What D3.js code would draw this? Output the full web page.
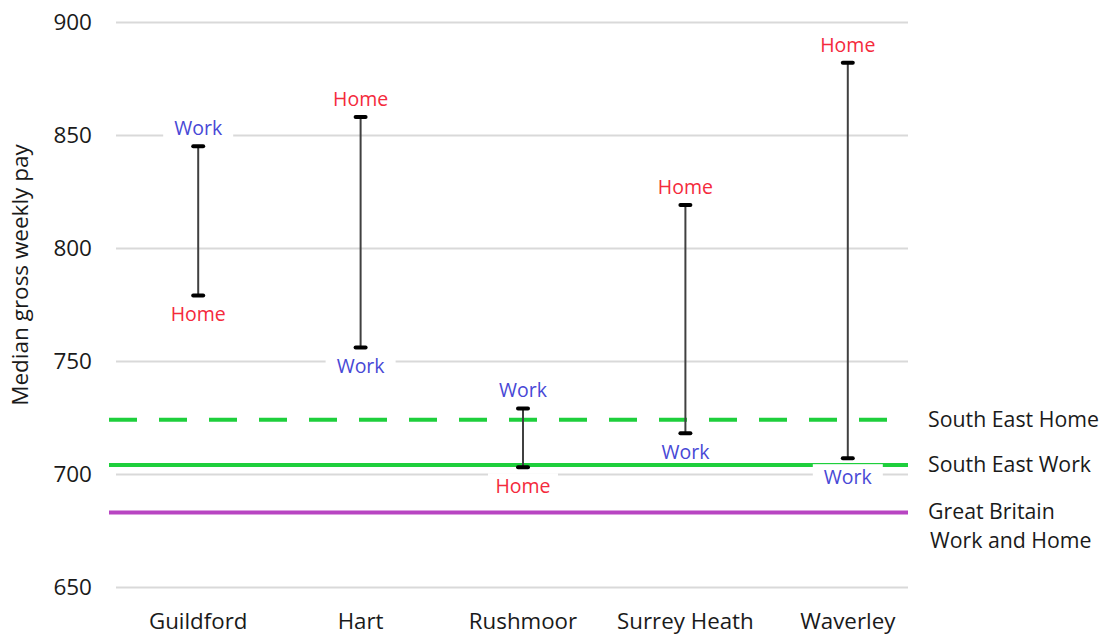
<!DOCTYPE html>
<html>
<head>
<meta charset="utf-8">
<script src="https://cdn.jsdelivr.net/npm/d3@7"></script>
<style>
  html, body { margin: 0; padding: 0; background: #fff; }
  svg text { font-family: "Open Sans", "Noto Sans", sans-serif; }
</style>
</head>
<body>
<div class="chart"></div>
<script>
var categories = ["Guildford", "Hart", "Rushmoor", "Surrey Heath", "Waverley"];
var workPay = [845, 756, 729, 718, 707];
var homePay = [779, 858, 703, 819, 882];
var refNames = ["South East Home", "South East Work", "Great Britain|Work and Home"];
var refValues = [724, 704, 683];
var yTicks = [650, 700, 750, 800, 850, 900];

(function() {
  var width = 1117, height = 635;
  var svg = d3.select(".chart").append("svg")
    .attr("width", width)
    .attr("height", height);

  var x = d3.scaleBand().domain(categories).range([117, 929]);
  var y = d3.scaleLinear().domain([650, 900]).range([587, 22]);
  var gridRight = 908;

  // gridlines + tick labels
  var yAxis = d3.axisLeft(y).tickValues(yTicks).tickSize(-(gridRight - 116)).tickPadding(24);
  var ga = svg.append("g").attr("transform", "translate(116,0)").call(yAxis);
  ga.select(".domain").remove();
  ga.selectAll(".tick line").attr("stroke", "#d9d9d9").attr("stroke-width", 2);
  ga.selectAll(".tick text").attr("font-size", 22.5).attr("fill", "#1a1a1a");

  // category labels
  svg.append("g").selectAll("text")
    .data(categories)
    .enter().append("text")
      .attr("x", function(d) { return x(d) + x.bandwidth() / 2; })
      .attr("y", 621)
      .attr("dy", "0.35em")
      .attr("text-anchor", "middle")
      .attr("font-size", 22.3)
      .attr("fill", "#1a1a1a")
      .text(function(d) { return d; });

  // y title
  svg.append("text")
    .attr("transform", "translate(20,275) rotate(-90)")
    .attr("dy", "0.35em")
    .attr("text-anchor", "middle")
    .attr("font-size", 22.5)
    .attr("fill", "#1a1a1a")
    .text("Median gross weekly pay");

  // reference lines
  var refStyle = [
    {color: "#1ecf3c", dash: "28,22"},
    {color: "#1ecf3c", dash: null},
    {color: "#b845c2", dash: null}
  ];
  var refs = refValues.map(function(v, i) { return {name: refNames[i], value: v, style: refStyle[i]}; });
  var gr = svg.append("g");
  gr.selectAll("line")
    .data(refs)
    .enter().append("line")
      .attr("x1", 109)
      .attr("x2", gridRight)
      .attr("y1", function(d) { return y(d.value); })
      .attr("y2", function(d) { return y(d.value); })
      .attr("stroke", function(d) { return d.style.color; })
      .attr("stroke-width", 4)
      .attr("stroke-dasharray", function(d) { return d.style.dash; });

  // legend text, one text element per line
  var legendLines = [];
  refs.forEach(function(d) {
    var parts = d.name.split("|");
    var top = y(d.value) - (parts.length - 1) * 1;
    parts.forEach(function(p, k) {
      legendLines.push({text: p, x: k === 0 ? 928 : 930, y: top + k * 29});
    });
  });
  gr.selectAll("text")
    .data(legendLines)
    .enter().append("text")
      .attr("x", function(d) { return d.x; })
      .attr("y", function(d) { return d.y; })
      .attr("dy", "0.35em")
      .attr("font-size", 21.3)
      .attr("fill", "#1a1a1a")
      .text(function(d) { return d.text; });

  // ranges
  var rows = categories.map(function(c, i) { return {cat: c, work: workPay[i], home: homePay[i]}; });
  var gw = svg.append("g").selectAll("g")
    .data(rows)
    .enter().append("g")
      .attr("transform", function(d) { return "translate(" + (x(d.cat) + x.bandwidth() / 2) + ",0)"; });
  gw.append("line")
    .attr("y1", function(d) { return y(d.work); })
    .attr("y2", function(d) { return y(d.home); })
    .attr("stroke", "#404040")
    .attr("stroke-width", 2);
  gw.selectAll("line.cap")
    .data(function(d) { return [d.work, d.home]; })
    .enter().append("line")
      .attr("class", "cap")
      .attr("x1", -5).attr("x2", 5)
      .attr("y1", function(v) { return y(v); })
      .attr("y2", function(v) { return y(v); })
      .attr("stroke", "#000")
      .attr("stroke-width", 4)
      .attr("stroke-linecap", "round");

  // labels
  var labels = [];
  rows.forEach(function(d) {
    var workTop = d.work > d.home;
    labels.push({cat: d.cat, text: "Work", value: d.work, up: workTop, color: "#4848d6"});
    labels.push({cat: d.cat, text: "Home", value: d.home, up: !workTop, color: "#f42a3c"});
  });
  var gl = svg.append("g").selectAll("g")
    .data(labels)
    .enter().append("g")
      .attr("transform", function(d) {
        var cy = y(d.value) + (d.up ? -18 : 19);
        return "translate(" + (x(d.cat) + x.bandwidth() / 2) + "," + cy + ")";
      });
  gl.append("rect")
    .attr("x", -35).attr("width", 70)
    .attr("y", -13).attr("height", 22)
    .attr("fill", "#fff");
  gl.append("text")
    .attr("text-anchor", "middle")
    .attr("dy", "0.35em")
    .attr("font-size", 19.5)
    .attr("fill", function(d) { return d.color; })
    .text(function(d) { return d.text; });
})();
</script>
</body>
</html>
